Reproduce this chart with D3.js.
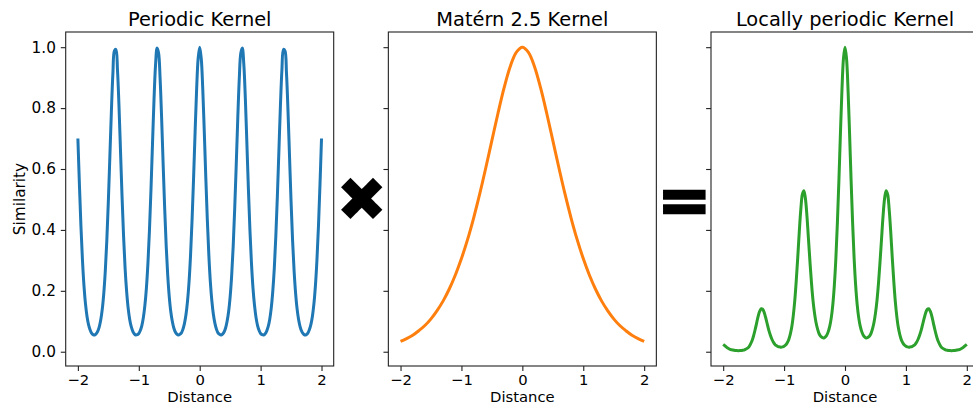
<!DOCTYPE html>
<html>
<head>
<meta charset="utf-8">
<script src="https://cdn.jsdelivr.net/npm/d3@7"></script>
<style>
  body { margin: 0; background: #fff; }
  svg { display: block; }
  text { font-family: "DejaVu Sans", sans-serif; fill: #000; }
</style>
</head>
<body>
<svg id="chart" width="973" height="406"></svg>
<script>
// Panel titles and axis text
const titles = ["Periodic Kernel", "Matérn 2.5 Kernel", "Locally periodic Kernel"];
const xLabel = "Distance";
const yLabel = "Similarity";
const xTicks = [-2, -1, 0, 1, 2];
const yTicks = [0.0, 0.2, 0.4, 0.6, 0.8, 1.0];

// Sample positions (distance) for the curves
const fineDistance = d3.range(-80, 81).map(i => i / 40);   // -2 .. 2, step 0.025
const coarseDistance = d3.range(-20, 21).map(i => i / 10); // -2 .. 2, step 0.1

// Periodic kernel similarity, sampled on fineDistance
const periodic = [
  0.700,0.550,0.413,0.302,0.217,0.157,0.116,0.089,0.072,0.061,
  0.056,0.055,0.059,0.067,0.081,0.104,0.139,0.191,0.265,0.365,
  0.493,0.640,0.789,0.914,0.988,0.993,0.926,0.806,0.658,0.510,
  0.380,0.275,0.199,0.144,0.107,0.083,0.068,0.059,0.055,0.056,
  0.060,0.070,0.086,0.112,0.152,0.209,0.290,0.398,0.532,0.682,
  0.828,0.941,0.997,0.981,0.897,0.766,0.615,0.471,0.347,0.251,
  0.181,0.132,0.100,0.078,0.065,0.058,0.055,0.057,0.062,0.074,
  0.093,0.122,0.166,0.229,0.318,0.434,0.573,0.724,0.864,0.964,
  1.000,
  0.964,0.864,0.724,0.573,0.434,0.318,0.229,0.166,0.122,
  0.093,0.074,0.062,0.057,0.055,0.058,0.065,0.078,0.100,0.132,
  0.181,0.251,0.347,0.471,0.615,0.766,0.897,0.981,0.997,0.941,
  0.828,0.682,0.532,0.398,0.290,0.209,0.152,0.112,0.086,0.070,
  0.060,0.056,0.055,0.059,0.068,0.083,0.107,0.144,0.199,0.275,
  0.380,0.510,0.658,0.806,0.926,0.993,0.988,0.914,0.789,0.640,
  0.493,0.365,0.265,0.191,0.139,0.104,0.081,0.067,0.059,0.055,
  0.056,0.061,0.072,0.089,0.116,0.157,0.217,0.302,0.413,0.550,
  0.700
];

// Matérn 2.5 kernel similarity, sampled on coarseDistance
const matern = [
  0.034,0.043,0.054,0.069,0.086,0.108,0.135,0.167,0.206,0.252,
  0.306,0.368,0.439,0.518,0.604,0.694,0.783,0.866,0.936,0.983,
  1.000,
  0.983,0.936,0.866,0.783,0.694,0.604,0.518,0.439,0.368,0.306,
  0.252,0.206,0.167,0.135,0.108,0.086,0.069,0.054,0.043,0.034
];

// Locally periodic kernel similarity, sampled on fineDistance
const locallyPeriodic = [
  0.024,0.020,0.016,0.012,0.009,0.007,0.006,0.005,0.004,0.004,
  0.003,0.004,0.004,0.005,0.006,0.009,0.012,0.017,0.026,0.037,
  0.053,0.073,0.095,0.117,0.133,0.141,0.139,0.128,0.110,0.090,
  0.070,0.054,0.041,0.031,0.024,0.020,0.017,0.016,0.015,0.016,
  0.018,0.022,0.029,0.039,0.056,0.080,0.117,0.167,0.234,0.312,
  0.396,0.468,0.517,0.529,0.503,0.446,0.371,0.295,0.225,0.168,
  0.126,0.095,0.074,0.059,0.051,0.047,0.045,0.048,0.054,0.066,
  0.084,0.112,0.155,0.218,0.306,0.423,0.563,0.717,0.860,0.963,
  1.000,
  0.963,0.860,0.717,0.563,0.423,0.306,0.218,0.155,0.112,
  0.084,0.066,0.054,0.048,0.045,0.047,0.051,0.059,0.074,0.095,
  0.126,0.168,0.225,0.295,0.371,0.446,0.503,0.529,0.517,0.468,
  0.396,0.312,0.234,0.167,0.117,0.080,0.056,0.039,0.029,0.022,
  0.018,0.016,0.015,0.016,0.017,0.020,0.024,0.031,0.041,0.054,
  0.070,0.090,0.110,0.128,0.139,0.141,0.133,0.117,0.095,0.073,
  0.053,0.037,0.026,0.017,0.012,0.009,0.006,0.005,0.004,0.004,
  0.003,0.004,0.004,0.005,0.006,0.007,0.009,0.012,0.016,0.020,
  0.024
];

const panels = [
  { title: titles[0], x: fineDistance,   y: periodic,        color: "#1f77b4" },
  { title: titles[1], x: coarseDistance, y: matern,          color: "#ff7f0e" },
  { title: titles[2], x: fineDistance,   y: locallyPeriodic, color: "#2ca02c" }
];

// Layout
const svg = d3.select("#chart");
const panelLeft0 = 65.7, panelStep = 322.65, panelW = 268;
const plotTop = 32, plotBottom = 366;
const tickLen = 4.9;
const yTickFont = 15.3, xTickFont = 14.8, labelFont = 14.8, titleFont = 19.4;

// Shared y scale (5% margins like matplotlib autoscale)
const allY = periodic.concat(matern, locallyPeriodic);
const yMin = d3.min(allY), yMax = d3.max(allY);
const yPad = (yMax - yMin) * 0.05;
const y = d3.scaleLinear().domain([yMin - yPad, yMax + yPad]).range([plotBottom, plotTop]);
const xPad = (2 - (-2)) * 0.05;

panels.forEach((p, i) => {
  const left = panelLeft0 + i * panelStep;
  const x = d3.scaleLinear().domain([-2 - xPad, 2 + xPad]).range([left, left + panelW]);
  const g = svg.append("g");

  const line = d3.line()
    .x((d, k) => x(p.x[k]))
    .y(d => y(d))
    .curve(d3.curveCatmullRom.alpha(0.5));

  g.append("path")
    .datum(p.y)
    .attr("d", line)
    .attr("fill", "none")
    .attr("stroke", p.color)
    .attr("stroke-width", 3)
    .attr("stroke-linejoin", "round")
    .attr("stroke-linecap", "butt");

  // Spines
  g.append("rect")
    .attr("x", left).attr("y", plotTop)
    .attr("width", panelW).attr("height", plotBottom - plotTop)
    .attr("fill", "none").attr("stroke", "#222").attr("stroke-width", 1.1);

  // X axis
  const xAxis = g.append("g").attr("transform", `translate(0,${plotBottom})`)
    .call(d3.axisBottom(x).tickValues(xTicks).tickSize(tickLen).tickPadding(3.8).tickFormat(d3.format("d")));
  xAxis.select(".domain").remove();
  xAxis.selectAll(".tick line").attr("stroke", "#222").attr("stroke-width", 1.1);
  xAxis.selectAll(".tick text").style("font-size", xTickFont + "px").attr("fill", "#000")
    .style("font-family", "'DejaVu Sans', sans-serif");

  // Y axis (labels only on the first panel)
  const yAxis = g.append("g").attr("transform", `translate(${left},0)`)
    .call(d3.axisLeft(y).tickValues(yTicks).tickSize(tickLen).tickPadding(4.9)
      .tickFormat(i === 0 ? d3.format(".1f") : () => ""));
  yAxis.select(".domain").remove();
  yAxis.selectAll(".tick line").attr("stroke", "#222").attr("stroke-width", 1.1);
  yAxis.selectAll(".tick text").style("font-size", yTickFont + "px").attr("fill", "#000")
    .style("font-family", "'DejaVu Sans', sans-serif");

  // Title
  g.append("text")
    .attr("x", left + panelW / 2).attr("y", 25.8)
    .attr("text-anchor", "middle")
    .style("font-size", titleFont + "px")
    .text(p.title);

  // X label
  g.append("text")
    .attr("x", left + panelW / 2).attr("y", 402.4)
    .attr("text-anchor", "middle")
    .style("font-size", labelFont + "px")
    .text(xLabel);

  if (i === 0) {
    g.append("text")
      .attr("transform", `translate(24.5,${(plotTop + plotBottom) / 2}) rotate(-90)`)
      .attr("text-anchor", "middle")
      .style("font-size", yTickFont + "px")
      .text(yLabel);
  }
});

// Operators between panels
svg.append("text")
  .attr("x", 361.7).attr("y", 199)
  .attr("text-anchor", "middle")
  .attr("dominant-baseline", "central")
  .style("font-size", "62px")
  .text("✖");

svg.append("text")
  .attr("x", 684.2).attr("y", 199.5)
  .attr("text-anchor", "middle")
  .attr("dominant-baseline", "central")
  .style("font-size", "64px")
  .style("font-weight", "bold")
  .attr("stroke", "#000")
  .attr("stroke-width", 2.5)
  .text("=");
</script>
</body>
</html>
